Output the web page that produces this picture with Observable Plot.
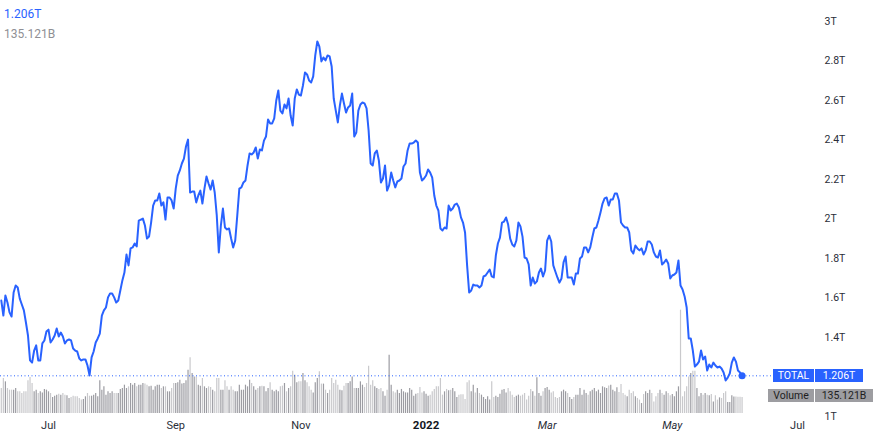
<!DOCTYPE html>
<html><head><meta charset="utf-8">
<script src="https://cdn.jsdelivr.net/npm/d3@7"></script>
<script src="https://cdn.jsdelivr.net/npm/@observablehq/plot@0.6"></script>
<style>
body{margin:0;background:#fff;font-family:Roboto,"Liberation Sans",sans-serif;}
#wrap{position:relative;width:873px;height:435px;overflow:hidden;background:#fff}
#wrap svg{position:absolute;left:0;top:0}
.hdr{position:absolute;left:4px;font-size:12px;line-height:14px;white-space:nowrap}
.box{position:absolute;height:13px;line-height:13px;font-size:10.5px;text-align:center;white-space:nowrap}
</style></head><body><div id="wrap"></div><script>
// Daily closing total market cap (trillions USD), from 2021-06-08
const values = [1.587,1.511,1.613,1.577,1.527,1.506,1.628,1.663,1.653,1.597,
1.567,1.537,1.476,1.410,1.284,1.273,1.334,1.360,1.284,1.284,
1.370,1.385,1.430,1.440,1.375,1.390,1.410,1.446,1.405,1.425,
1.405,1.370,1.385,1.390,1.385,1.344,1.334,1.329,1.294,1.284,
1.289,1.289,1.258,1.208,1.299,1.329,1.375,1.395,1.420,1.511,
1.537,1.552,1.603,1.623,1.623,1.603,1.577,1.587,1.638,1.689,
1.729,1.820,1.765,1.851,1.856,1.876,1.861,1.992,1.997,2.002,
1.967,1.901,1.911,1.982,2.068,2.094,2.094,2.129,2.068,2.084,
1.997,2.109,2.109,2.094,2.053,2.154,2.220,2.246,2.281,2.306,
2.367,2.402,2.134,2.139,2.139,2.084,2.119,2.144,2.078,2.154,
2.215,2.180,2.149,2.195,2.134,2.018,1.831,1.967,2.053,1.957,
1.947,1.952,1.901,1.856,1.891,2.018,2.154,2.160,2.185,2.195,
2.271,2.332,2.327,2.337,2.362,2.306,2.352,2.347,2.397,2.418,
2.504,2.484,2.484,2.509,2.600,2.651,2.549,2.534,2.580,2.560,
2.610,2.524,2.473,2.610,2.656,2.630,2.625,2.676,2.742,2.732,
2.701,2.691,2.722,2.828,2.899,2.873,2.798,2.818,2.803,2.828,
2.823,2.772,2.610,2.549,2.489,2.575,2.635,2.585,2.539,2.565,
2.575,2.635,2.418,2.438,2.549,2.580,2.590,2.585,2.560,2.448,
2.281,2.271,2.332,2.347,2.296,2.185,2.205,2.271,2.144,2.170,
2.235,2.195,2.160,2.190,2.195,2.205,2.266,2.281,2.347,2.382,
2.382,2.387,2.397,2.387,2.235,2.195,2.205,2.220,2.251,2.235,
2.210,2.119,2.068,2.043,1.952,1.942,1.957,1.952,2.068,2.043,
2.053,2.073,2.078,2.058,2.008,1.982,1.932,1.765,1.628,1.638,
1.668,1.663,1.663,1.653,1.663,1.709,1.714,1.729,1.744,1.709,
1.704,1.815,1.876,1.906,1.982,1.987,2.008,1.972,1.901,1.871,
1.861,1.891,1.982,1.962,1.911,1.805,1.800,1.770,1.663,1.704,
1.673,1.684,1.729,1.749,1.709,1.739,1.891,1.916,1.886,1.765,
1.734,1.704,1.678,1.699,1.780,1.810,1.704,1.704,1.704,1.668,
1.724,1.724,1.800,1.810,1.856,1.856,1.831,1.856,1.906,1.952,
1.957,1.992,2.033,2.078,2.104,2.109,2.068,2.099,2.099,2.129,
2.129,2.094,1.982,1.967,1.957,1.957,1.932,1.841,1.825,1.866,
1.851,1.841,1.851,1.820,1.841,1.886,1.886,1.871,1.831,1.810,
1.805,1.841,1.770,1.780,1.795,1.775,1.699,1.714,1.719,1.729,
1.790,1.663,1.643,1.608,1.552,1.395,1.395,1.334,1.253,1.263,
1.278,1.334,1.289,1.304,1.233,1.263,1.248,1.273,1.258,1.248,
1.253,1.243,1.223,1.182,1.197,1.218,1.273,1.299,1.278,1.233,
1.223,1.206];
// Daily volume (billions USD)
const volumes = [211,295,267,211,197,197,197,211,183,183,169,
183,183,276,304,253,183,197,169,183,174,203,197,183,169,135,146,155,163,155,169,155,149,127,135,146,
141,141,127,113,118,141,169,146,146,155,169,141,276,197,225,155,183,169,183,169,169,169,203,211,239,211,
225,253,239,253,225,239,239,253,248,239,225,231,197,225,239,239,211,225,225,183,183,211,253,253,259,281,248,253,276,366,
470,
338,309,309,239,231,295,225,211,225,219,197,183,295,295,197,197,276,225,197,225,197,183,183,239,197,197,239,225,281,253,225,197,211,225,231,225,183,211,259,197,183,197,183,225,231,253,183,211,225,
357,323,259,267,
267,338,276,259,225,197,174,259,295,352,248,248,197,169,197,295,253,281,239,197,191,231,253,253,267,309,211,211,211,267,239,219,253,399,239,276,225,211,203,211,183,146,197,492,
239,183,174,197,169,203,183,174,174,211,197,146,163,169,219,174,183,163,146,155,183,203,225,225,295,155,183,203,191,197,
211,183,135,155,158,158,118,259,276,183,239,174,211,169,155,135,118,141,113,267,135,146,135,163,197,203,174,211,183,155,
135,146,155,146,155,169,113,146,203,183,146,301,
169,146,183,211,219,197,174,183,135,127,135,183,197,183,169,135,118,135,155,155,211,155,197,169,155,183,197,211,183,197,
169,225,217,211,233,239,197,183,217,177,245,169,155,141,197,169,183,141,127,113,84,160,183,169,197,169,98,141,169,197,
169,155,183,169,149,160,141,183,225,872,
141,183,225,309,338,357,357,211,141,169,155,169,155,149,160,98,149,113,132,127,169,183,93,93,149,140,140,138,137,135.121];
const startDate = "2021-06-08";
const seriesName = "TOTAL";
const volumeName = "Volume";
// the 1.2T tick is hidden behind the last-value label in the reference
const yTicks = [1, 1.4, 1.6, 1.8, 2, 2.2, 2.4, 2.6, 2.8, 3];
const xTickDates = ["2021-07-01","2021-09-01","2021-11-01","2022-01-01","2022-03-01","2022-05-01","2022-07-01"];
const xTickLabels = ["Jul","Sep","Nov","2022","Mar","May","Jul"];
const xTickStyles = ["normal","normal","normal","bold","italic","italic","normal"];

const BLUE = "#2962ff";
const DAY = 864e5;
const t0 = Date.parse(startDate + "T00:00:00Z");
const data = values.map((v, i) => ({
  date: new Date(t0 + i * DAY), value: v, volume: volumes[i],
  up: i > 0 && v >= values[i - 1]
}));
const last = data[data.length - 1];

// layout calibration
const W = 873, H = 435, frameRight = 815;
const jul1 = Date.UTC(2021, 6, 1), pxPerDay = 2.052, jul1px = 48;
const xDomain = [new Date(jul1 - jul1px / pxPerDay * DAY), new Date(jul1 + (frameRight - jul1px) / pxPerDay * DAY)];

const ticks = xTickDates.map((d, i) => ({date: new Date(d + "T00:00:00Z"), label: xTickLabels[i], style: xTickStyles[i]}));

const volChart = Plot.plot({
  width: W, height: H, marginLeft: 0, marginRight: W - frameRight, marginTop: 21, marginBottom: 22,
  x: {type: "utc", domain: xDomain, axis: null},
  y: {domain: [0, 3308], axis: null},
  style: {background: "transparent"},
  marks: [
    Plot.ruleX(data, {x: "date", y1: 0, y2: "volume", stroke: d => d.up ? "#9c9ca2" : "#c9c9cc", strokeWidth: 1.2})
  ]
});

const txt = {fontSize: 11, fill: "#2a2e39"};
const priceChart = Plot.plot({
  width: W, height: H, marginLeft: 0, marginRight: W - frameRight, marginTop: 21, marginBottom: 19,
  x: {type: "utc", domain: xDomain, axis: null},
  y: {domain: [1, 3], label: null},
  style: {background: "transparent", fontFamily: "Roboto, 'Liberation Sans', sans-serif", overflow: "visible"},
  marks: [
    Plot.axisY(yTicks, {anchor: "right", tickSize: 0, tickPadding: 9, textAnchor: "start",
      tickFormat: d => `${+d.toFixed(1)}T`, fontSize: 10.5, fill: "#2a2e39", label: null}),
    Plot.ruleY([last.value], {stroke: BLUE, strokeDasharray: "1,2.5", strokeWidth: 1}),
    Plot.lineY(data, {x: "date", y: "value", stroke: BLUE, strokeWidth: 2, strokeLinejoin: "round"}),
    Plot.dot([last], {x: "date", y: "value", r: 3.5, fill: BLUE}),
    Plot.text(ticks.filter(d => d.style === "normal"), {x: "date", text: "label", frameAnchor: "bottom", dy: 12, ...txt}),
    Plot.text(ticks.filter(d => d.style === "italic"), {x: "date", text: "label", frameAnchor: "bottom", dy: 12, fontStyle: "italic", ...txt}),
    Plot.text(ticks.filter(d => d.style === "bold"), {x: "date", text: "label", frameAnchor: "bottom", dy: 12, fontWeight: "bold", fontSize: 11.5, fill: "#131722"})
  ]
});

const wrap = document.getElementById("wrap");
wrap.appendChild(volChart);
wrap.appendChild(priceChart);

const fmtT = v => v.toFixed(3) + "T";
const fmtB = v => v.toFixed(3) + "B";
const yLast = priceChart.scale("y").apply(last.value);

function add(cls, text, css) {
  const d = document.createElement("div");
  d.className = cls; d.textContent = text;
  Object.assign(d.style, css);
  wrap.appendChild(d);
}
add("hdr", fmtT(last.value), {top: "7px", color: BLUE});
add("hdr", fmtB(last.volume), {top: "27px", color: "#8f8f94"});
add("box", seriesName, {left: "773px", width: "41px", top: (yLast - 6.5) + "px", background: BLUE, color: "#fff"});
add("box", fmtT(last.value), {left: "815px", width: "48px", top: (yLast - 6.5) + "px", background: BLUE, color: "#fff"});
add("box", volumeName, {left: "768px", width: "46px", top: (yLast + 14) + "px", background: "#9d9da1", color: "#1e1e1e"});
add("box", fmtB(last.volume), {left: "815px", width: "58px", top: (yLast + 14) + "px", background: "#9d9da1", color: "#1e1e1e"});
</script></body></html>
